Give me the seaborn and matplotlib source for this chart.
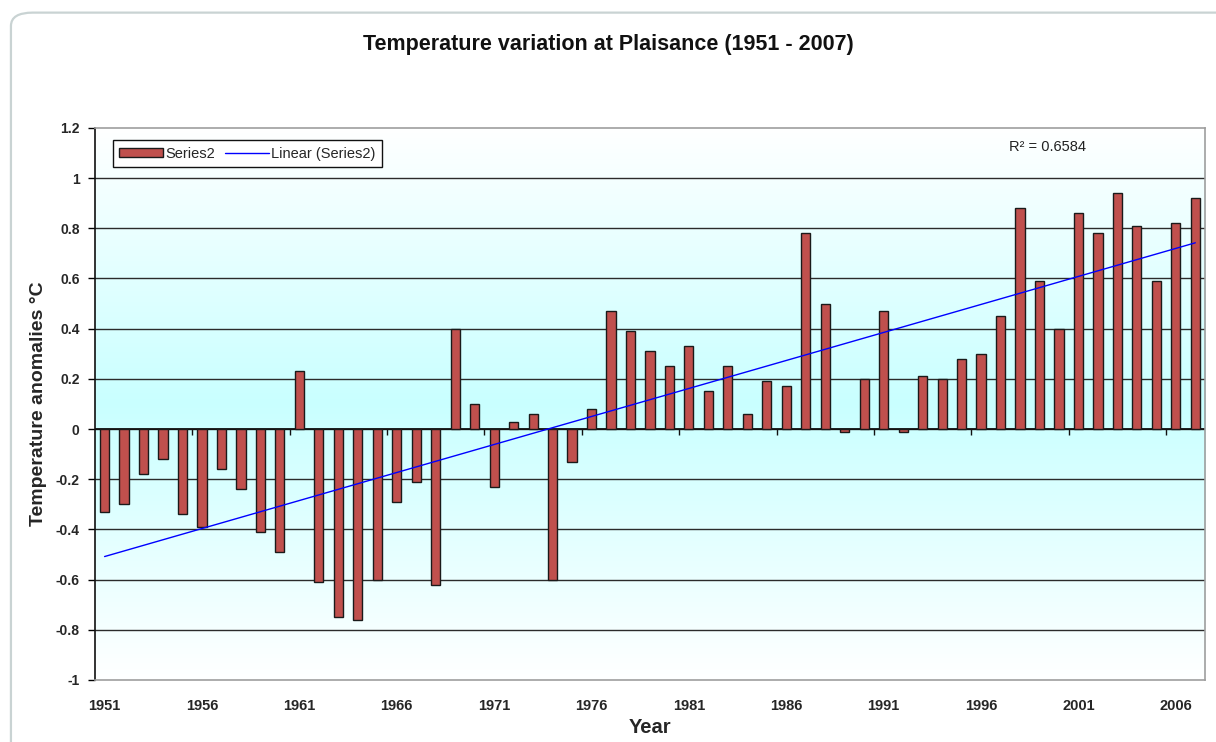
import numpy as np
import pandas as pd
import matplotlib
matplotlib.use("Agg")
import matplotlib.pyplot as plt
from matplotlib.patches import Patch, FancyBboxPatch
from matplotlib.lines import Line2D
from matplotlib.colors import LinearSegmentedColormap
from matplotlib.ticker import FuncFormatter
import seaborn as sns

# Annual temperature anomalies at Plaisance (deg C)
years = list(range(1951, 2008))
anomalies = [
    -0.33, -0.30, -0.18, -0.12, -0.34, -0.39, -0.16, -0.24, -0.41, -0.49,
    0.23, -0.61, -0.75, -0.76, -0.60, -0.29, -0.21, -0.62, 0.40, 0.10,
    -0.23, 0.03, 0.06, -0.60, -0.13, 0.08, 0.47, 0.39, 0.31, 0.25,
    0.33, 0.15, 0.25, 0.06, 0.19, 0.17, 0.78, 0.50, -0.01, 0.20,
    0.47, -0.01, 0.21, 0.20, 0.28, 0.30, 0.45, 0.88, 0.59, 0.40,
    0.86, 0.78, 0.94, 0.81, 0.59, 0.82, 0.92,
]
xtick_years = list(range(1951, 2008, 5))
ytick_values = [1.2, 1.0, 0.8, 0.6, 0.4, 0.2, 0.0, -0.2, -0.4, -0.6, -0.8, -1.0]
r2_label = "R\u00b2 = 0.6584"

df = pd.DataFrame({"Year": years, "Anomaly": anomalies})

sns.set_theme(style="white")
plt.rcParams["font.family"] = ["Liberation Sans", "DejaVu Sans"]

fig = plt.figure(figsize=(12.16, 7.42), dpi=100)
fig.patch.set_facecolor("white")

# rounded chart frame
frame = FancyBboxPatch((0.009, -0.05), 1.05, 1.033, transform=fig.transFigure,
                       boxstyle="round,pad=0,rounding_size=0.018",
                       facecolor="none", edgecolor="#c9d3d3", linewidth=1.6,
                       zorder=-5)
fig.patches.append(frame)

ax = fig.add_axes([0.078, 0.0836, 0.913, 0.744])
ymin, ymax = -1.0, 1.2
xmin, xmax = 1950.5, 2007.5

# plot-area gradient: white at the edges, pale cyan in the middle
cmap = LinearSegmentedColormap.from_list(
    "bg", [(0.0, "#ffffff"), (0.5, "#c9ffff"), (1.0, "#ffffff")])
grad = np.linspace(0, 1, 256).reshape(-1, 1)
ax.imshow(grad, cmap=cmap, aspect="auto", extent=[xmin, xmax, ymin, ymax],
          origin="lower", zorder=0)

# horizontal gridlines
for v in ytick_values[1:-1]:
    ax.axhline(v, color="#2b2b2b", linewidth=1.0, zorder=1)
ax.axhline(0, color="#111111", linewidth=1.3, zorder=1)

sns.barplot(data=df, x="Year", y="Anomaly", native_scale=True, width=0.47,
            color="#c0504d", edgecolor="#1a1a1a", linewidth=1.0,
            saturation=1, ax=ax, zorder=3)

sns.regplot(data=df, x="Year", y="Anomaly", scatter=False, ci=None,
            truncate=True, color="#0000ff", line_kws={"linewidth": 1.0, "zorder": 4},
            ax=ax)

ax.set_xlim(xmin, xmax)
ax.set_ylim(ymin, ymax)

ax.set_yticks(ytick_values)
ax.yaxis.set_major_formatter(FuncFormatter(lambda v, p: f"{v:g}"))
ax.set_xticks(xtick_years)
ax.set_xticklabels([str(y) for y in xtick_years])
ax.tick_params(axis="y", which="major", direction="out", length=5, width=1,
               color="black", left=True, labelsize=10, pad=6)
ax.tick_params(axis="x", which="major", length=0, labelsize=10.5, pad=14)
for lab in ax.get_xticklabels() + ax.get_yticklabels():
    lab.set_fontweight("bold")

# small category ticks on the zero axis
zero_frac = (0 - ymin) / (ymax - ymin)
sec = ax.secondary_xaxis(zero_frac)
sec.set_xticks([y - 0.5 for y in xtick_years[1:]])
sec.tick_params(direction="out", length=4, width=1, color="#111111",
                labelbottom=False, labeltop=False)
sec.spines["bottom"].set_visible(False)
sec.spines["top"].set_visible(False)

for side in ["top", "right", "bottom"]:
    ax.spines[side].set_color("#9e9e9e")
    ax.spines[side].set_linewidth(1.2)
ax.spines["left"].set_color("#111111")
ax.spines["left"].set_linewidth(1.2)

ax.set_xlabel("Year", fontsize=14.5, fontweight="bold", labelpad=3)
ax.set_ylabel("Temperature anomalies \u00b0C", fontsize=14, fontweight="bold",
              labelpad=6)

fig.text(0.5, 0.94, "Temperature variation at Plaisance (1951 - 2007)",
         ha="center", va="center", fontsize=15.5, fontweight="bold",
         color="#111111")

ax.text(0.823, 0.978, r2_label, transform=ax.transAxes, ha="left", va="top",
        fontsize=10.5, color="#222222")

handles = [
    Patch(facecolor="#c0504d", edgecolor="#1a1a1a", linewidth=1.0, label="Series2"),
    Line2D([0], [0], color="#0000ff", linewidth=1.0, label="Linear (Series2)"),
]
leg = ax.legend(handles=handles, ncol=2, loc="upper left",
                bbox_to_anchor=(0.016, 0.978), fontsize=10.5, frameon=True,
                fancybox=False, edgecolor="#111111", framealpha=1,
                handlelength=3.0, handleheight=0.5, columnspacing=0.7,
                handletextpad=0.15, borderpad=0.45, borderaxespad=0)
leg.get_frame().set_linewidth(1.0)

fig.savefig("out.png", dpi=100, facecolor="white")
